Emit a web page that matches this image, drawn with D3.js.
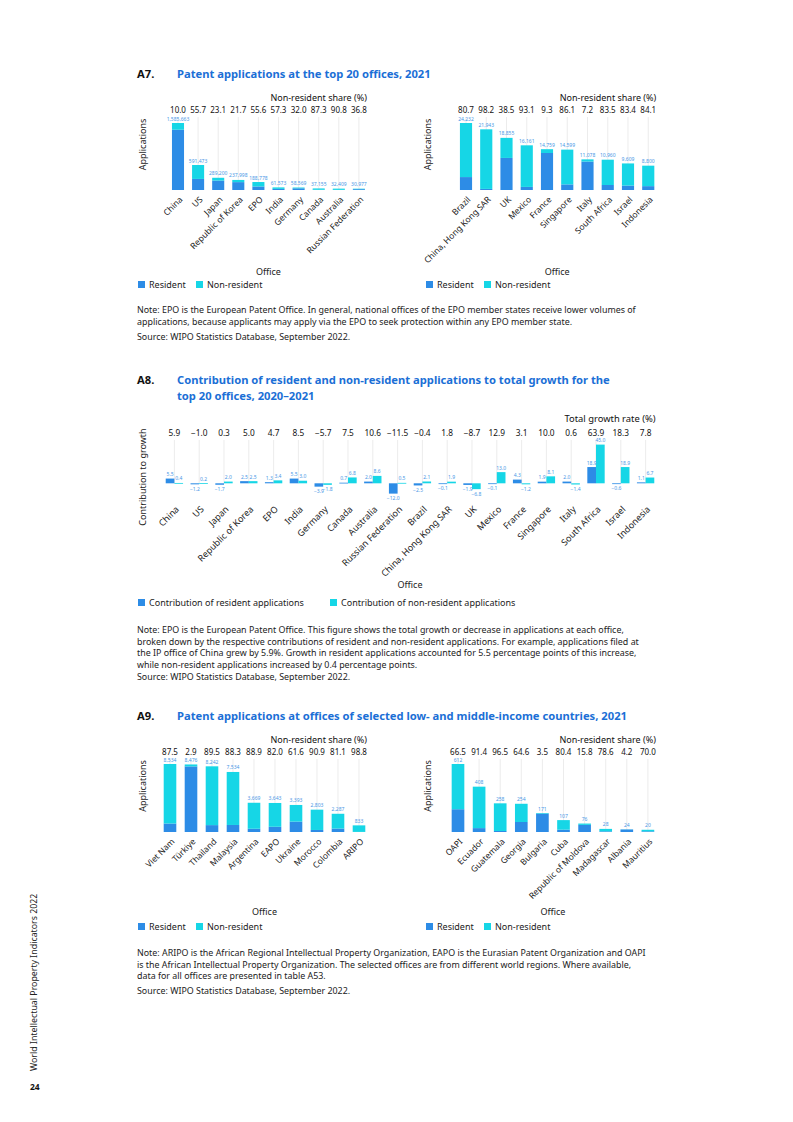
<!DOCTYPE html>
<html>
<head>
<meta charset="utf-8">
<title>Patent applications – A7, A8, A9</title>
<script src="https://cdn.jsdelivr.net/npm/d3@7"></script>
<style>
  body { margin: 0; background: #fff; }
  svg { display: block; }
  text { font-family: 'Noto Sans', sans-serif; }
</style>
</head>
<body>
<div id="page"></div>
<script>
// ---- A7 data (left: top 10 offices, right: next 10) ----
var a7OfficesLeft = ['China', 'US', 'Japan', 'Republic of Korea', 'EPO', 'India', 'Germany', 'Canada', 'Australia', 'Russian Federation'];
var a7ResidentLeft = [1426644, 262023, 222395, 186352, 83817, 26292, 39827, 4719, 2982, 19577];
var a7NonResidentLeft = [159019, 329450, 66805, 51646, 104961, 35281, 18742, 32436, 29427, 11400];
var a7ShareLeft = ['10.0', '55.7', '23.1', '21.7', '55.6', '57.3', '32.0', '87.3', '90.8', '36.8'];

var a7OfficesRight = ['Brazil', 'China, Hong Kong SAR', 'UK', 'Mexico', 'France', 'Singapore', 'Italy', 'South Africa', 'Israel', 'Indonesia'];
var a7ResidentRight = [4677, 395, 11596, 1115, 13386, 2029, 10280, 1808, 1595, 1399];
var a7NonResidentRight = [19555, 21548, 7259, 15046, 1373, 12570, 798, 9152, 8014, 7401];
var a7ShareRight = ['80.7', '98.2', '38.5', '93.1', '9.3', '86.1', '7.2', '83.5', '83.4', '84.1'];

// ---- A8 data ----
var a8Offices = ['China', 'US', 'Japan', 'Republic of Korea', 'EPO', 'India', 'Germany', 'Canada', 'Australia', 'Russian Federation',
  'Brazil', 'China, Hong Kong SAR', 'UK', 'Mexico', 'France', 'Singapore', 'Italy', 'South Africa', 'Israel', 'Indonesia'];
var a8Resident = [5.5, -1.2, -1.7, 2.5, 1.3, 5.5, -3.9, 0.7, 2.0, -12.0, -2.5, -0.1, -1.9, -0.1, 4.3, 1.9, 2.0, 18.9, -0.6, 1.1];
var a8NonResident = [0.4, 0.2, 2.0, 2.5, 3.4, 3.0, -1.8, 6.8, 8.6, 0.5, 2.1, 1.9, -6.8, 13.0, -1.2, 8.1, -1.4, 45.0, 18.9, 6.7];
var a8Total = ['5.9', '\u22121.0', '0.3', '5.0', '4.7', '8.5', '\u22125.7', '7.5', '10.6', '\u221211.5',
  '\u22120.4', '1.8', '\u22128.7', '12.9', '3.1', '10.0', '0.6', '63.9', '18.3', '7.8'];

// ---- A9 data ----
var a9OfficesLeft = ['Viet Nam', 'Türkiye', 'Thailand', 'Malaysia', 'Argentina', 'EAPO', 'Ukraine', 'Morocco', 'Colombia', 'ARIPO'];
var a9ResidentLeft = [1067, 8230, 865, 882, 407, 656, 1303, 255, 432, 10];
var a9NonResidentLeft = [7467, 246, 7377, 6652, 3262, 2987, 2090, 2548, 1855, 823];
var a9ShareLeft = ['87.5', '2.9', '89.5', '88.3', '88.9', '82.0', '61.6', '90.9', '81.1', '98.8'];

var a9OfficesRight = ['OAPI', 'Ecuador', 'Guatemala', 'Georgia', 'Bulgaria', 'Cuba', 'Republic of Moldova', 'Madagascar', 'Albania', 'Mauritius'];
var a9ResidentRight = [205, 35, 9, 90, 165, 21, 64, 6, 23, 6];
var a9NonResidentRight = [407, 373, 249, 164, 6, 86, 12, 22, 1, 14];
var a9ShareRight = ['66.5', '91.4', '96.5', '64.6', '3.5', '80.4', '15.8', '78.6', '4.2', '70.0'];

var RES = '#2d8ce6', NON = '#16d6e6', LABEL = '#4a98e6', TITLE = '#1b6fd6', GRID = '#e4e4e4';

var svg = d3.select('#page').append('svg')
  .attr('width', 793).attr('height', 1122);
svg.append('rect').attr('width', 793).attr('height', 1122).attr('fill', '#fff');

function title(code, lines, y) {
  svg.append('text').attr('x', 137).attr('y', y).attr('font-size', 11.2)
    .attr('font-weight', 700).attr('fill', '#111').text(code);
  lines.forEach(function(l, i) {
    svg.append('text').attr('x', 177).attr('y', y + i * 16).attr('font-size', 11.2)
      .attr('font-weight', 700).attr('fill', TITLE).text(l);
  });
}

function notes(lines, y, gap) {
  lines.forEach(function(l, i) {
    var yy = y + i * 11.5 + (i === lines.length - 1 ? (gap || 3.5) : 0);
    svg.append('text').attr('x', 137).attr('y', yy).attr('font-size', 8.9)
      .attr('fill', '#222').text(l);
  });
}

function legend(x, y, items) {
  var g = svg.append('g').attr('transform', 'translate(' + x + ',' + y + ')');
  items.forEach(function(it) {
    g.append('rect').attr('x', it.dx).attr('y', -7).attr('width', 7).attr('height', 7).attr('fill', it.color);
    g.append('text').attr('x', it.dx + 11).attr('y', 0).attr('font-size', 9).attr('fill', '#222').text(it.label);
  });
}

function xLabels(g, x, size, dy) {
  g.call(d3.axisBottom(x).tickSize(0).tickPadding(0));
  g.select('.domain').remove();
  g.selectAll('text')
    .attr('y', 0).attr('dy', '0.35em')
    .attr('font-size', size).attr('fill', '#222')
    .attr('font-family', "'Noto Sans', sans-serif")
    .attr('text-anchor', 'end')
    .attr('transform', 'translate(3,' + dy + ') rotate(-45)');
}

function stacked(o) {
  var n = o.cats.length;
  var x = d3.scaleBand().domain(o.cats)
    .range([o.c0 - o.step / 2, o.c0 - o.step / 2 + o.step * n])
    .paddingInner(0.4).paddingOuter(0.2);
  var cx = function(d) { return x(d) + x.bandwidth() / 2; };
  var rows = o.cats.map(function(c, i) { return { cat: c, res: o.res[i], non: o.non[i] }; });
  var totals = rows.map(function(r) { return r.res + r.non; });
  var y = d3.scaleLinear().domain([0, d3.max(totals)]).range([o.base, o.base - o.barH]);
  var series = d3.stack().keys(['res', 'non'])(rows);
  var g = svg.append('g');

  g.selectAll('line.grid').data(o.cats).join('line')
    .attr('x1', cx).attr('x2', cx)
    .attr('y1', o.shareY + 4).attr('y2', o.base)
    .attr('stroke', GRID).attr('stroke-width', 0.7);

  g.selectAll('g.s').data(series).join('g')
    .attr('fill', function(s) { return s.key === 'res' ? RES : NON; })
    .selectAll('rect').data(function(s) { return s; }).join('rect')
    .attr('x', function(d) { return x(d.data.cat); })
    .attr('width', x.bandwidth())
    .attr('y', function(d) { return y(d[1]); })
    .attr('height', function(d) { return y(d[0]) - y(d[1]); });

  g.selectAll('text.tot').data(rows).join('text')
    .attr('x', function(d) { return cx(d.cat); })
    .attr('y', function(d) { return y(d.res + d.non) - 2.5; })
    .attr('text-anchor', 'middle').attr('font-size', 5).attr('fill', LABEL)
    .text(function(d) { return d3.format(',')(d.res + d.non); });

  g.selectAll('text.share').data(o.share).join('text')
    .attr('x', function(d, i) { return cx(o.cats[i]); })
    .attr('y', o.shareY).attr('text-anchor', 'middle')
    .attr('font-size', 8).attr('fill', '#111').text(function(d) { return d; });

  g.append('text').attr('x', cx(o.cats[n - 1]) + 8).attr('y', o.shareY - 12)
    .attr('text-anchor', 'end').attr('font-size', 9).attr('fill', '#111')
    .text('Non-resident share (%)');

  xLabels(g.append('g').attr('transform', 'translate(0,' + o.base + ')'), x, 8.5, 8);

  var mid = (cx(o.cats[0]) + cx(o.cats[n - 1])) / 2;
  g.append('text').attr('x', mid).attr('y', o.officeY).attr('text-anchor', 'middle')
    .attr('font-size', 9).attr('fill', '#222').text('Office');

  g.append('text').attr('transform', 'translate(' + o.axisX + ',' + (o.base - o.barH / 2 - 12) + ') rotate(-90)')
    .attr('text-anchor', 'middle').attr('font-size', 9).attr('fill', '#222').text('Applications');

  legend(o.legendX, o.legendY, [
    { dx: 0, color: RES, label: 'Resident' },
    { dx: 58, color: NON, label: 'Non-resident' }
  ]);
}

// ---------------- A7 ----------------
title('A7.', ['Patent applications at the top 20 offices, 2021'], 78);
stacked({ cats: a7OfficesLeft, res: a7ResidentLeft, non: a7NonResidentLeft, share: a7ShareLeft,
  c0: 178, step: 20.1, base: 190, barH: 67, shareY: 113, axisX: 146, officeY: 275, legendY: 288, legendX: 138 });
stacked({ cats: a7OfficesRight, res: a7ResidentRight, non: a7NonResidentRight, share: a7ShareRight,
  c0: 466, step: 20.25, base: 190, barH: 67, shareY: 113, axisX: 431, officeY: 275, legendY: 288, legendX: 426 });
notes(['Note: EPO is the European Patent Office. In general, national offices of the EPO member states receive lower volumes of',
  'applications, because applicants may apply via the EPO to seek protection within any EPO member state.',
  'Source: WIPO Statistics Database, September 2022.'], 313);

// ---------------- A8 ----------------
title('A8.', ['Contribution of resident and non-resident applications to total growth for the', 'top 20 offices, 2020\u20132021'], 384);
(function() {
  var n = a8Offices.length, c0 = 174.4, step = 24.8, zeroY = 483.3, k = 0.86;
  var x = d3.scaleBand().domain(a8Offices)
    .range([c0 - step / 2, c0 - step / 2 + step * n])
    .paddingInner(0.3).paddingOuter(0.15);
  var xs = d3.scaleBand().domain(['res', 'non']).range([0, x.bandwidth()]);
  var y = d3.scaleLinear().domain([-12, 45]).range([zeroY + 12 * k, zeroY - 45 * k]);
  var cx = function(d) { return x(d) + x.bandwidth() / 2; };
  var rows = a8Offices.map(function(c, i) { return { cat: c, res: a8Resident[i], non: a8NonResident[i] }; });
  var bars = [];
  rows.forEach(function(r) {
    bars.push({ cat: r.cat, key: 'res', v: r.res });
    bars.push({ cat: r.cat, key: 'non', v: r.non });
  });
  var g = svg.append('g');
  var fmt = d3.format('.1f');

  g.selectAll('line.grid').data(a8Offices).join('line')
    .attr('x1', cx).attr('x2', cx).attr('y1', 440).attr('y2', zeroY)
    .attr('stroke', GRID).attr('stroke-width', 0.7);

  g.selectAll('rect').data(bars).join('rect')
    .attr('x', function(d) { return x(d.cat) + xs(d.key); })
    .attr('width', xs.bandwidth())
    .attr('y', function(d) { return y(Math.max(0, d.v)); })
    .attr('height', function(d) { return Math.max(0.8, Math.abs(y(d.v) - y(0))); })
    .attr('fill', function(d) { return d.key === 'res' ? RES : NON; });

  g.selectAll('text.val').data(bars).join('text')
    .attr('x', function(d) { return x(d.cat) + xs(d.key) + xs.bandwidth() / 2; })
    .attr('y', function(d) { return d.v >= 0 ? y(d.v) - 2.5 : y(d.v) + 6.5; })
    .attr('text-anchor', 'middle').attr('font-size', 5).attr('fill', LABEL)
    .text(function(d) { return fmt(d.v); });

  g.selectAll('text.tot').data(a8Total).join('text')
    .attr('x', function(d, i) { return cx(a8Offices[i]); })
    .attr('y', 436).attr('text-anchor', 'middle').attr('font-size', 8.3).attr('fill', '#111')
    .text(function(d) { return d; });

  g.append('text').attr('x', cx(a8Offices[n - 1]) + 10).attr('y', 422)
    .attr('text-anchor', 'end').attr('font-size', 9.4).attr('fill', '#111').text('Total growth rate (%)');

  xLabels(g.append('g').attr('transform', 'translate(0,' + y(-12) + ')'), x, 9, 14);

  g.append('text').attr('x', 410).attr('y', 588).attr('text-anchor', 'middle')
    .attr('font-size', 9).attr('fill', '#222').text('Office');
  g.append('text').attr('transform', 'translate(146,477) rotate(-90)')
    .attr('text-anchor', 'middle').attr('font-size', 9).attr('fill', '#222').text('Contribution to growth');

  legend(138, 606, [
    { dx: 0, color: RES, label: 'Contribution of resident applications' },
    { dx: 192, color: NON, label: 'Contribution of non-resident applications' }
  ]);
})();
notes(['Note: EPO is the European Patent Office. This figure shows the total growth or decrease in applications at each office,',
  'broken down by the respective contributions of resident and non-resident applications. For example, applications filed at',
  'the IP office of China grew by 5.9%. Growth in resident applications accounted for 5.5 percentage points of this increase,',
  'while non-resident applications increased by 0.4 percentage points.',
  'Source: WIPO Statistics Database, September 2022.'], 633, 0.5);

// ---------------- A9 ----------------
title('A9.', ['Patent applications at offices of selected low- and middle-income countries, 2021'], 720);
stacked({ cats: a9OfficesLeft, res: a9ResidentLeft, non: a9NonResidentLeft, share: a9ShareLeft,
  c0: 170, step: 21, base: 832, barH: 68, shareY: 755, axisX: 146, officeY: 915, legendY: 930, legendX: 138 });
stacked({ cats: a9OfficesRight, res: a9ResidentRight, non: a9NonResidentRight, share: a9ShareRight,
  c0: 458, step: 21.1, base: 832, barH: 68, shareY: 755, axisX: 431, officeY: 915, legendY: 930, legendX: 426 });
notes(['Note: ARIPO is the African Regional Intellectual Property Organization, EAPO is the Eurasian Patent Organization and OAPI',
  'is the African Intellectual Property Organization. The selected offices are from different world regions. Where available,',
  'data for all offices are presented in table A53.',
  'Source: WIPO Statistics Database, September 2022.'], 956, 0);

// ---------------- page margin ----------------
svg.append('text').attr('transform', 'translate(37,1071) rotate(-90)')
  .attr('font-size', 8.8).attr('fill', '#222').text('World Intellectual Property Indicators 2022');
svg.append('text').attr('x', 30).attr('y', 1090).attr('font-size', 8.5)
  .attr('font-weight', 700).attr('fill', '#111').text('24');
</script>
</body>
</html>
